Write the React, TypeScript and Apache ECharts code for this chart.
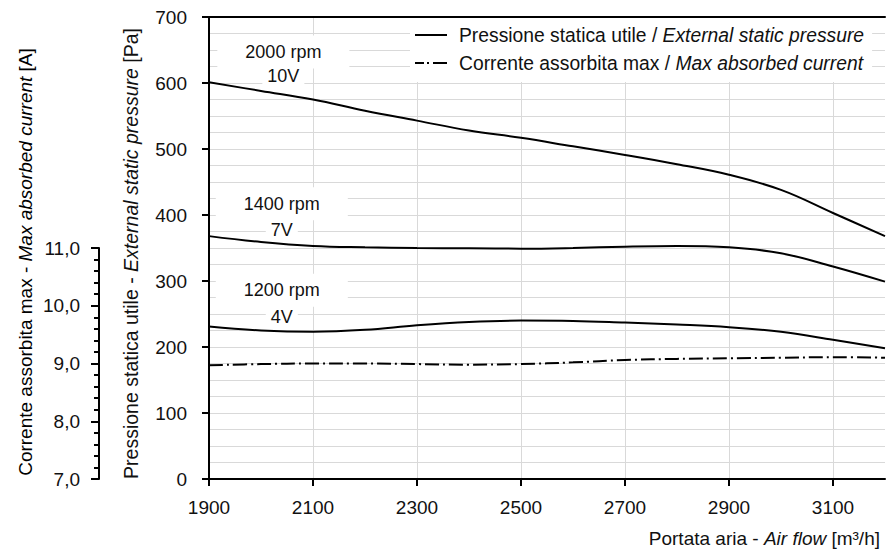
import React, { useEffect, useRef } from "react";
import * as echarts from "echarts";

const FONT = "'Liberation Sans', Arial, Helvetica, sans-serif";

// Air flow (m3/h)
const flow = [1900, 2000, 2100, 2200, 2300, 2400, 2500, 2600, 2700, 2800, 2900, 3000, 3100, 3200];
// External static pressure (Pa)
const p2000 = [601, 588, 575, 558, 543, 528, 517, 504, 491, 477, 461, 438, 403, 368];
const p1400 = [368, 359, 353, 351, 350, 349.5, 349, 350, 352, 353, 351, 342, 322, 299];
const p1200 = [231, 225, 223, 226, 233, 238, 240, 239.5, 237, 234, 230, 223, 211, 198];
// Max absorbed current (A)
const current = [8.97, 8.99, 9.0, 9.0, 8.99, 8.98, 8.99, 9.02, 9.06, 9.08, 9.09, 9.1, 9.11, 9.1];

const xTickLabels = [1900, 2100, 2300, 2500, 2700, 2900, 3100];
const curveNames = [
  ["2000 rpm", "10V"],
  ["1400 rpm", "7V"],
  ["1200 rpm", "4V"],
];

const richText = (size: number) => ({
  n: { fontFamily: FONT, fontSize: size, color: "#111" },
  i: { fontFamily: FONT, fontSize: size, color: "#111", fontStyle: "italic" },
});

const zip = (ys: number[]) => flow.map((x, i) => [x, ys[i]]);

const curveLabel = (texts: string[], c1: number[], c2: number[]) => ({
  silent: true,
  symbol: "rect",
  symbolSize: 0,
  data: [
    {
      coord: c1,
      label: { formatter: texts[0], padding: [8, 28, 7, 28] },
    },
    {
      coord: c2,
      label: { formatter: texts[1], padding: [1, 5, 2, 5] },
    },
  ],
  label: {
    show: true,
    position: "inside",
    color: "#111",
    fontFamily: FONT,
    fontSize: 18,
    backgroundColor: "#fff",
  },
});

const SOLID_ICON = "path://M0,0h32v2h-32z";
const DASHDOT_ICON = "path://M0,0h9v2h-9z M12,0h2v2h-2z M18,0h14v2h-14z";

export default function App() {
  const ref = useRef<HTMLDivElement>(null);
  useEffect(() => {
    const chart = echarts.init(ref.current!, null, { renderer: "svg" });
    const lineStyle = { color: "#000", width: 2 };
    const option = {
      animation: false,
      backgroundColor: "#fff",
      textStyle: { fontFamily: FONT },
      grid: [
        { left: 209, right: 1, top: 17, bottom: 72 },
        { left: 209, right: 1, top: 248, bottom: 72 },
      ],
      legend: {
        left: 410,
        top: 18,
        orient: "vertical",
        backgroundColor: "#fff",
        padding: [6, 8, 8, 5],
        itemGap: 6,
        itemWidth: 32,
        itemHeight: 2,
        symbolKeepAspect: false,
        data: [
          { name: "pressure", icon: SOLID_ICON, itemStyle: { color: "#000" } },
          { name: "current", icon: DASHDOT_ICON, itemStyle: { color: "#000" } },
        ],
        formatter: (name: string) =>
          name === "pressure"
            ? "{n|Pressione statica utile / }{i|External static pressure}"
            : "{n|Corrente assorbita max / }{i|Max absorbed current}",
        textStyle: { padding: [0, 0, 0, 7], rich: richText(19.3), lineHeight: 22 },
      },
      graphic: [
        {
          type: "text",
          x: 25,
          y: 262,
          rotation: Math.PI / 2,
          style: {
            text: "{n|Corrente assorbita max - }{i|Max absorbed current}{n| [A]}",
            align: "center",
            verticalAlign: "middle",
            rich: richText(19),
          },
        },
      ],
      xAxis: [
        {
          gridIndex: 0,
          type: "value",
          min: 1900,
          max: 3200,
          interval: 50,
          axisLine: { show: true, lineStyle },
          axisTick: { show: true, customValues: xTickLabels, length: 7, lineStyle },
          axisLabel: {
            customValues: xTickLabels,
            margin: 19,
            fontSize: 19,
            color: "#111",
            fontFamily: FONT,
            formatter: (v: number) => String(v),
          },
          splitLine: { show: true, lineStyle: { color: "#d9d9d9", width: 1 } },
          name: "{n|Portata aria - }{i|Air flow}{n| [m³/h]}",
          nameLocation: "end",
          nameGap: 0,
          nameTextStyle: {
            align: "right",
            verticalAlign: "top",
            padding: [50, 5, 0, 0],
            rich: richText(19),
          },
        },
        {
          gridIndex: 0,
          type: "value",
          position: "top",
          min: 1900,
          max: 3200,
          axisLine: { show: true, lineStyle },
          axisTick: { show: false },
          axisLabel: { show: false },
          splitLine: { show: false },
        },
        { gridIndex: 1, type: "value", min: 1900, max: 3200, show: false },
      ],
      yAxis: [
        {
          gridIndex: 0,
          type: "value",
          min: 0,
          max: 700,
          interval: 100,
          axisLine: { show: true, lineStyle },
          axisTick: { show: true, length: 7, lineStyle },
          axisLabel: { margin: 22, fontSize: 19, color: "#111", fontFamily: FONT },
          splitLine: { show: true, lineStyle: { color: "#d9d9d9", width: 1 } },
          minorTick: { show: false, splitNumber: 4 },
          minorSplitLine: { show: true, lineStyle: { color: "#d9d9d9", width: 1 } },
          name: "{n|Pressione statica utile - }{i|External static pressure}{n| [Pa]}",
          nameLocation: "middle",
          nameRotate: 90,
          nameGap: 68,
          nameTextStyle: { rich: richText(19.5), padding: [0, 11, 0, 0] },
        },
        {
          gridIndex: 1,
          type: "value",
          position: "left",
          offset: 110,
          min: 7,
          max: 11,
          interval: 1,
          axisLine: { show: true, lineStyle },
          axisTick: { show: true, length: 8, lineStyle },
          minorTick: { show: true, splitNumber: 5, length: 5, lineStyle },
          axisLabel: {
            margin: 19,
            fontSize: 19,
            color: "#111",
            fontFamily: FONT,
            formatter: (v: number) => v.toFixed(1).replace(".", ","),
          },
          splitLine: { show: false },
        },
      ],
      series: [
        {
          name: "pressure",
          type: "line",
          xAxisIndex: 0,
          yAxisIndex: 0,
          data: zip(p2000),
          smooth: 0.4,
          symbol: "none",
          itemStyle: { color: "#000" },
          lineStyle,
          markPoint: curveLabel(curveNames[0], [2043, 647], [2043, 610]),
        },
        {
          name: "pressure",
          type: "line",
          xAxisIndex: 0,
          yAxisIndex: 0,
          data: zip(p1400),
          smooth: 0.4,
          symbol: "none",
          itemStyle: { color: "#000" },
          lineStyle,
          markPoint: curveLabel(curveNames[1], [2040, 417], [2040, 378]),
        },
        {
          name: "pressure",
          type: "line",
          xAxisIndex: 0,
          yAxisIndex: 0,
          data: zip(p1200),
          smooth: 0.4,
          symbol: "none",
          itemStyle: { color: "#000" },
          lineStyle,
          markPoint: curveLabel(curveNames[2], [2040, 286], [2040, 246]),
        },
        {
          name: "current",
          type: "line",
          xAxisIndex: 2,
          yAxisIndex: 1,
          data: zip(current),
          smooth: 0.4,
          symbol: "none",
          itemStyle: { color: "#000" },
          lineStyle: { color: "#000", width: 2, type: [14, 4, 2, 4] },
        },
      ],
    };
    chart.setOption(option as any);
    return () => chart.dispose();
  }, []);
  return (
    <div
      ref={ref}
      style={{ position: "absolute", left: 0, top: 0, width: 886, height: 551 }}
    />
  );
}
